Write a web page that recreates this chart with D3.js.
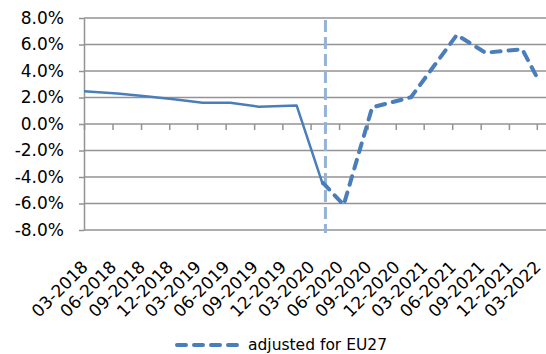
<!DOCTYPE html>
<html>
<head>
<meta charset="utf-8">
<script src="https://cdn.jsdelivr.net/npm/d3@7"></script>
<style>
  body { margin: 0; background: #fff; }
  svg { display: block; }
  text { font-family: "DejaVu Sans", Verdana, sans-serif; fill: #000; }
</style>
</head>
<body>
<svg id="chart" width="546" height="354"></svg>
<script>
// Quarter labels on the time axis
const quarterLabels = ["03-2018", "06-2018", "09-2018", "12-2018", "03-2019", "06-2019",
  "09-2019", "12-2019", "03-2020", "06-2020", "09-2020", "12-2020", "03-2021", "06-2021",
  "09-2021", "12-2021", "03-2022"];

// Value axis ticks (growth rate)
const yTicks = [-0.08, -0.06, -0.04, -0.02, 0, 0.02, 0.04, 0.06, 0.08];

// Growth rate before the EU27 adjustment
const unadjustedDates = ["2018-03-01", "2018-06-16", "2018-09-16", "2018-12-16", "2019-03-19",
  "2019-06-16", "2019-09-16", "2020-01-16", "2020-04-10"];
const unadjustedValues = [0.0248, 0.0230, 0.0209, 0.0187, 0.0161, 0.0161, 0.0131, 0.0140, -0.0460];

// Growth rate adjusted for EU27
const adjustedDates = ["2020-04-10", "2020-06-16", "2020-09-16", "2021-01-19", "2021-06-16",
  "2021-09-16", "2022-01-13", "2022-03-01"];
const adjustedValues = [-0.0445, -0.0610, 0.0126, 0.0202, 0.0672, 0.0538, 0.0564, 0.0355];

// Date of the break marker
const breakDate = "2020-04-18";
const legendLabel = "adjusted for EU27";

const parseDay = d3.timeParse("%Y-%m-%d");
const parseQuarter = d3.timeParse("%m-%Y");
const tickDates = quarterLabels.map(parseQuarter);

const svg = d3.select("#chart");
const plotLeft = 84, plotRight = 546, plotTop = 18, plotBottom = 230;
const blue = "#4a7ebb";

const x = d3.scaleTime()
  .domain([tickDates[0], tickDates[tickDates.length - 1]])
  .range([plotLeft, 536.8]);
const y = d3.scaleLinear().domain([-0.08, 0.08]).range([plotBottom, plotTop]);

const pct = d3.formatLocale({ decimal: ".", thousands: ",", grouping: [3], currency: ["", ""], minus: "-", percent: "%" })
  .format(".1%");

// Horizontal gridlines
svg.append("g").selectAll("line").data(yTicks).join("line")
  .attr("x1", plotLeft).attr("x2", plotRight)
  .attr("y1", d => y(d)).attr("y2", d => y(d))
  .attr("stroke", "#939393").attr("stroke-width", 1.5);

// Value axis with labels
const yAxis = svg.append("g").attr("transform", `translate(${plotLeft},0)`)
  .call(d3.axisLeft(y).tickValues(yTicks).tickFormat(pct).tickSize(5).tickPadding(15).tickSizeOuter(0));
yAxis.select(".domain").attr("stroke", "#939393").attr("stroke-width", 1.5);
yAxis.selectAll(".tick line").attr("stroke", "#939393").attr("stroke-width", 1.5);
yAxis.selectAll(".tick text").attr("font-size", 17).attr("fill", "#000")
  .attr("font-family", "DejaVu Sans, Verdana, sans-serif");

// Category ticks along the zero line
const xAxis = svg.append("g").attr("transform", `translate(0,${y(0)})`)
  .call(d3.axisBottom(x).tickValues(tickDates).tickFormat("").tickSize(6).tickSizeOuter(0));
xAxis.select(".domain").remove();
xAxis.selectAll(".tick line").attr("stroke", "#939393").attr("stroke-width", 1.5);

// Rotated quarter labels below the plot
svg.append("g").selectAll("text").data(tickDates).join("text")
  .attr("transform", d => `translate(${x(d) + 5},268) rotate(-45)`)
  .attr("text-anchor", "end")
  .attr("font-size", 17)
  .text((d, i) => quarterLabels[i]);

// Break marker
svg.append("line")
  .attr("x1", x(parseDay(breakDate))).attr("x2", x(parseDay(breakDate)))
  .attr("y1", plotTop + 2).attr("y2", plotBottom + 3)
  .attr("stroke", "#95b3d7").attr("stroke-width", 3)
  .attr("stroke-dasharray", "12,5");

const line = d3.line().x(d => x(d[0])).y(d => y(d[1]));

svg.append("path")
  .datum(unadjustedDates.map((d, i) => [parseDay(d), unadjustedValues[i]]))
  .attr("d", line)
  .attr("fill", "none").attr("stroke", blue).attr("stroke-width", 2.5)
  .attr("stroke-linejoin", "round");

svg.append("path")
  .datum(adjustedDates.map((d, i) => [parseDay(d), adjustedValues[i]]))
  .attr("d", line)
  .attr("fill", "none").attr("stroke", blue).attr("stroke-width", 4)
  .attr("stroke-linecap", "round").attr("stroke-linejoin", "round")
  .attr("stroke-dasharray", "9,8");

// Legend
const legend = svg.append("g").attr("transform", "translate(175,345)");
legend.append("line").attr("x1", 2).attr("x2", 64).attr("y1", 0).attr("y2", 0)
  .attr("stroke", blue).attr("stroke-width", 4)
  .attr("stroke-linecap", "round").attr("stroke-dasharray", "9,8");
legend.append("text").attr("x", 73).attr("dy", "0.35em").attr("font-size", 15.5).text(legendLabel);
</script>
</body>
</html>
